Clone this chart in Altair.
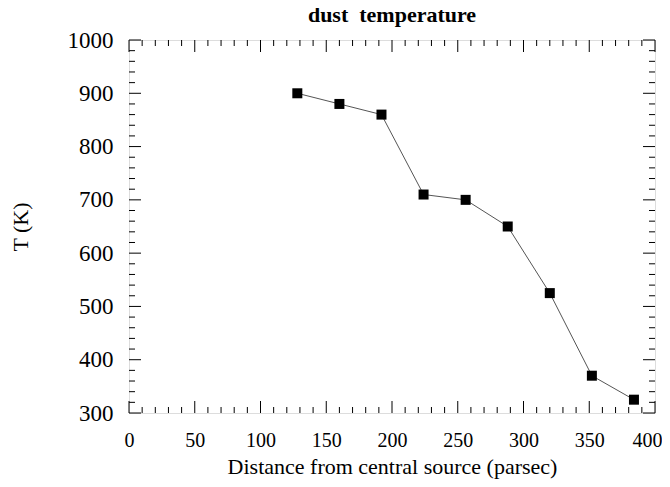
import altair as alt
import pandas as pd

distance = [128, 160, 192, 224, 256, 288, 320, 352, 384]
temperature = [900, 880, 860, 710, 700, 650, 525, 370, 325]

x_major = [0, 50, 100, 150, 200, 250, 300, 350, 400]
y_major = [300, 400, 500, 600, 700, 800, 900, 1000]
x_minor = [v for v in range(0, 401, 10) if v % 50 != 0]
y_minor = [v for v in range(300, 1001, 20) if v % 100 != 0]

W, H = 526, 373
FONT = "Liberation Serif"

xs = alt.Scale(domain=[0, 400], nice=False, zero=False)
ys = alt.Scale(domain=[300, 1000], nice=False, zero=False)

df = pd.DataFrame({"x": distance, "y": temperature})

xaxis = alt.Axis(values=x_major, domain=False, ticks=False, grid=False, labelPadding=17,
                 labelFlush=False, format="d",
                 labelAlign=alt.expr("datum.value >= 400 ? 'right' : 'center'"),
                 labelOffset=alt.expr("datum.value >= 400 ? 7 : 0"),
                 labelFont=FONT, labelFontSize=20, labelColor="black",
                 title="Distance from central source (parsec)", titleFont=FONT,
                 titleFontSize=22, titleFontWeight="normal", titleColor="black", titlePadding=6)
yaxis = alt.Axis(values=y_major, domain=False, ticks=False, grid=False, labelPadding=16,
                 labelFlush=False, format="d",
                 labelFont=FONT, labelFontSize=23, labelColor="black",
                 title="T (K)", titleFont=FONT, titleFontSize=22, titleFontWeight="normal",
                 titleColor="black", titlePadding=35)

line = alt.Chart(df).mark_line(color="#555555", strokeWidth=1).encode(
    x=alt.X("x:Q", scale=xs, axis=xaxis),
    y=alt.Y("y:Q", scale=ys, axis=yaxis),
)
pts = alt.Chart(df).mark_square(color="black", size=100, opacity=1).encode(
    x=alt.X("x:Q", scale=xs), y=alt.Y("y:Q", scale=ys)
)

def xticks(vals, length):
    d = pd.DataFrame({"x": vals})
    bottom = alt.Chart(d).mark_rule(color="black", strokeWidth=1).encode(
        x=alt.X("x:Q", scale=xs), y=alt.value(H), y2=alt.value(H - length))
    top = alt.Chart(d).mark_rule(color="black", strokeWidth=1).encode(
        x=alt.X("x:Q", scale=xs), y=alt.value(0), y2=alt.value(length))
    return [bottom, top]

def yticks(vals, length):
    d = pd.DataFrame({"y": vals})
    left = alt.Chart(d).mark_rule(color="black", strokeWidth=1).encode(
        y=alt.Y("y:Q", scale=ys), x=alt.value(0), x2=alt.value(length))
    right = alt.Chart(d).mark_rule(color="black", strokeWidth=1).encode(
        y=alt.Y("y:Q", scale=ys), x=alt.value(W), x2=alt.value(W - length))
    return [left, right]

layers = [line] + xticks(x_major, 12) + xticks(x_minor, 6) + yticks(y_major, 12) + yticks(y_minor, 6) + [pts]

chart = alt.layer(*layers).properties(
    width=W, height=H,
    title=alt.TitleParams("dust\u00a0 temperature", font=FONT, fontSize=22, fontWeight="bold",
                          color="black", anchor="middle", offset=2),
    autosize=alt.AutoSizeParams(type="none"),
    padding={"left": 121, "top": 32, "right": 7, "bottom": 66},
).configure_view(stroke="black", strokeWidth=1.5).configure(background="white")

chart.save("out.html", embed_options={"renderer": "svg", "actions": False})
